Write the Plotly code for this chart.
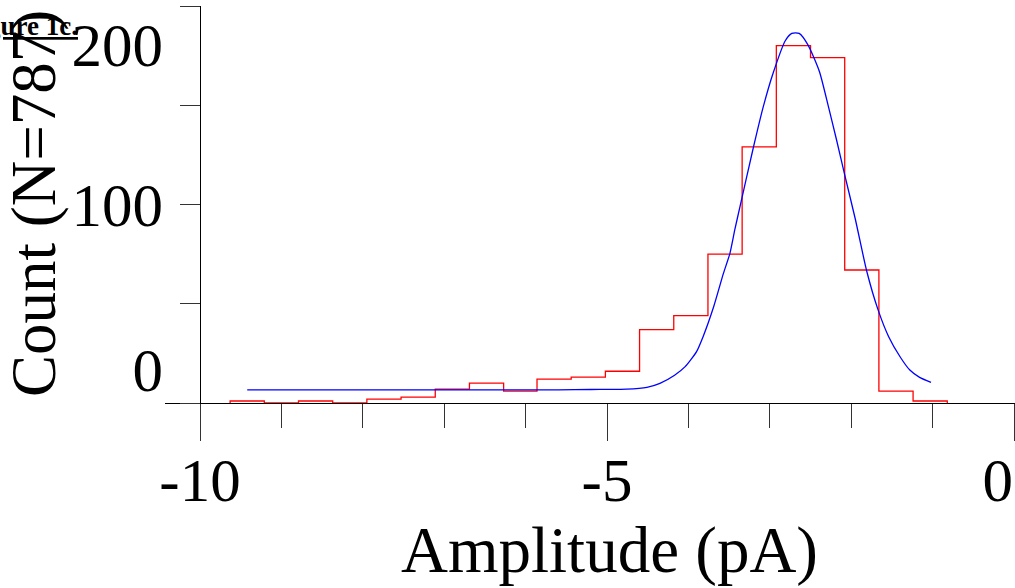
import plotly.graph_objects as go

# Histogram (bin edges in pA, counts)
bin_edges = [-9.63, -9.21, -8.79, -8.37, -7.95, -7.53, -7.11, -6.69, -6.27, -5.86, -5.44,
             -5.02, -4.60, -4.18, -3.76, -3.34, -2.92, -2.50, -2.08, -1.66, -1.24, -0.82]
counts = [1, 0, 1, 0, 2, 3, 7, 10, 6, 12, 13, 16, 37, 44, 75, 129, 180, 174, 67, 6, 1]

# Gaussian fit curve
fit_x = [-9.42, -8.0, -7.0, -6.0, -5.6, -5.2, -4.76, -4.51, -4.35, -4.17, -4.04, -3.90,
         -3.82, -3.69, -3.57, -3.49, -3.43, -3.37, -3.20, -3.08, -2.96, -2.81, -2.73,
         -2.64, -2.53, -2.39, -2.28, -2.18, -2.08, -1.95, -1.81, -1.67, -1.54, -1.40,
         -1.28, -1.16, -1.02]
fit_y = [6.6, 6.6, 6.6, 6.6, 6.6, 6.8, 7.0, 7.9, 9.9, 14.0, 18.3, 25.9,
         33.4, 48.5, 65.3, 75.4, 87.3, 98.3, 129.1, 149.3, 166.1, 182.5, 186.2,
         186.2, 180.3, 166.9, 149.3, 132.5, 114.9, 92.7, 66.5, 46.9, 33.4, 23.3,
         16.6, 12.9, 10.4]

x_major = [-10, -5, 0]
x_minor = [-9, -8, -7, -6, -4, -3, -2, -1]
x_label_pos = [-10, -5, -0.2]
x_label_text = ["-10", "-5", "0"]
y_ticks = [0, 50, 100, 150, 200]
y_label_pos = [16.6, 99.7, 180.3]
y_label_text = ["0", "100", "200"]

X_RANGE = [-10.43, 0.012]
Y_RANGE = [0, 200]
FONT = "Liberation Serif, Times New Roman, serif"

# step outline
step_x = [bin_edges[0]] + bin_edges
step_y = [0] + counts + [0]

fig = go.Figure()
fig.add_trace(go.Scatter(x=step_x, y=step_y, mode="lines", line_shape="hv",
                         line=dict(color="#ff0000", width=1.3), hoverinfo="skip",
                         showlegend=False, xaxis="x", yaxis="y"))
fig.add_trace(go.Scatter(x=fit_x, y=fit_y, mode="lines", line_shape="spline",
                         line=dict(color="#0000ff", width=1.3, smoothing=0.6),
                         hoverinfo="skip", showlegend=False, xaxis="x2", yaxis="y2"))

fig.update_layout(
    width=1015, height=588,
    margin=dict(l=165, r=0, t=6, b=185),
    paper_bgcolor="white", plot_bgcolor="white",
    font=dict(family=FONT, size=62, color="black"),
    xaxis=dict(range=X_RANGE, showgrid=False, zeroline=False, showline=True,
               linecolor="black", linewidth=1, ticks="outside", tickvals=x_major,
               ticklen=37, tickcolor="#333", tickwidth=1, showticklabels=False,
               minor=dict(tickvals=x_minor, ticks="outside", ticklen=24,
                          tickcolor="#333", tickwidth=1, showgrid=False),
               anchor="y", fixedrange=True),
    yaxis=dict(range=Y_RANGE, showgrid=False, zeroline=False, showline=True,
               linecolor="black", linewidth=1, ticks="outside", tickvals=y_ticks,
               ticklen=20, tickcolor="#333", tickwidth=1, showticklabels=False,
               anchor="free", position=(200 - 165) / 850, fixedrange=True),
    xaxis2=dict(range=X_RANGE, overlaying="x", anchor="y", side="bottom",
                showgrid=False, zeroline=False, showline=False, ticks="",
                tickvals=x_label_pos, ticktext=x_label_text,
                ticklabelstandoff=36, tickfont=dict(family=FONT, size=61),
                fixedrange=True),
    yaxis2=dict(range=Y_RANGE, overlaying="y", anchor="x", side="left",
                showgrid=False, zeroline=False, showline=False, ticks="",
                tickvals=y_label_pos, ticktext=y_label_text,
                ticklabelstandoff=1, tickfont=dict(family=FONT, size=61),
                fixedrange=True),
    annotations=[
        dict(text="Amplitude (pA)", xref="paper", yref="paper",
             x=(609 - 165) / 850, y=(403 - 550) / 397, xanchor="center",
             yanchor="middle", showarrow=False, font=dict(family=FONT, size=65)),
        dict(text="Count (N=787)", xref="paper", yref="paper", textangle=-90,
             x=(34 - 165) / 850, y=(403 - 204) / 397, xanchor="center",
             yanchor="middle", showarrow=False, font=dict(family=FONT, size=63)),
        dict(text="<u><b>Figure 1c.</b></u>", xref="paper", yref="paper",
             x=(79 - 165) / 850, y=(403 - 26) / 397, xanchor="right",
             yanchor="middle", showarrow=False, borderpad=0,
             font=dict(family=FONT, size=27)),
    ],
)

fig.write_html("out.html")
